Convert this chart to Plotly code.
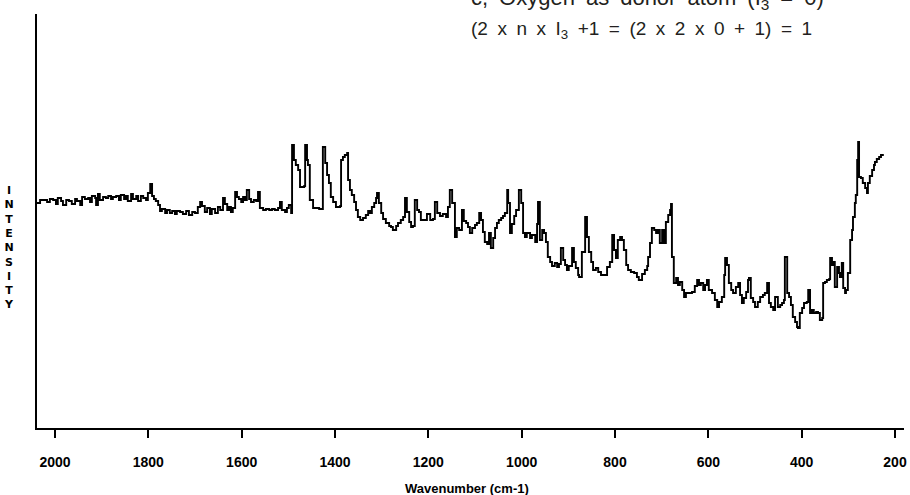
import plotly.graph_objects as go

# Wavenumber (cm-1) and intensity (arbitrary units)
wavenumber = [
    2039, 2032, 2024, 2017, 2011, 2004, 1998, 1994, 1987, 1983, 1976, 1970, 1964, 1957, 1953, 1946,
    1942, 1936, 1929, 1925, 1921, 1914, 1912, 1908, 1904, 1897, 1891, 1886, 1880, 1876, 1869, 1863,
    1859, 1852, 1848, 1844, 1837, 1833, 1826, 1822, 1816, 1811, 1805, 1801, 1796, 1792, 1788, 1784,
    1779, 1775, 1771, 1764, 1760, 1754, 1749, 1743, 1739, 1732,
    1726, 1719, 1713, 1706, 1700, 1694, 1689, 1685, 1679, 1674, 1668, 1664, 1657, 1651, 1646, 1640,
    1636, 1631, 1627, 1623, 1619, 1614, 1610, 1606, 1601, 1597, 1593, 1589, 1584, 1580, 1574, 1569,
    1565, 1561, 1554, 1548, 1541, 1535, 1529, 1522, 1518, 1514, 1507, 1503, 1499, 1494, 1492, 1488,
    1484, 1479, 1475, 1471, 1466, 1464, 1460, 1458, 1454, 1447, 1441, 1434, 1430, 1426, 1421,
    1417, 1413, 1409, 1404, 1398, 1394, 1389, 1387, 1383, 1379, 1374, 1372, 1368, 1364, 1359, 1355,
    1351, 1346, 1340, 1334, 1329, 1325, 1321, 1316, 1312, 1310, 1306, 1301, 1297, 1291, 1284, 1280,
    1276, 1269, 1265, 1259, 1254, 1250, 1246, 1241, 1237, 1233, 1229, 1224, 1220, 1216, 1209, 1203,
    1196, 1190, 1186, 1181, 1175, 1169, 1162, 1158, 1154, 1149, 1143, 1139, 1134, 1128, 1124, 1119,
    1115, 1111,
    1106, 1100, 1096, 1091, 1087, 1083, 1079, 1074, 1070, 1066, 1061, 1057, 1053, 1049, 1044, 1040,
    1036, 1031, 1029, 1025, 1021, 1016, 1012, 1006, 1001, 997, 993, 989, 982, 978, 971, 967,
    965, 961, 956, 952, 948, 944, 939, 935, 929, 924, 920, 916, 911, 907, 903, 899,
    892, 888, 884, 879, 877, 871, 864, 860, 856, 851, 847, 841, 836, 830, 824, 817,
    811, 806, 802,
    798, 794, 789, 785, 781, 776, 772, 766, 759, 753, 749, 742, 736, 731, 729, 725,
    721, 716, 712, 708, 704, 699, 695, 691, 686, 682, 680, 678, 674, 669, 665, 661,
    656, 652, 648, 641, 635, 629, 624, 620, 616, 611, 607, 603, 599, 592, 586, 581,
    577, 571, 566, 564, 560, 556, 551, 547, 541, 536, 532, 528, 524, 519, 515, 513,
    509, 504, 500, 494, 489,
    483, 479, 474, 470, 466, 461, 457, 451, 446, 442, 438, 436, 431, 427, 423, 419,
    414, 410, 408, 404, 399, 395, 389, 386, 382, 378, 374, 369, 365, 361, 356, 354,
    350, 346, 341, 339, 335, 333, 329, 324, 320, 318, 314, 311, 307, 305, 301, 296,
    292, 290, 286, 284, 281, 279, 277, 273, 269, 264, 260, 258, 254, 249, 245, 243,
    239, 234, 230, 226,
]
intensity = [
    225, 228, 228, 226, 229, 228, 224, 230, 227, 223, 228, 227, 224, 229, 227, 223,
    231, 229, 230, 226, 232, 230, 223, 234, 228, 231, 230, 232, 229, 231, 232, 228,
    233, 229, 232, 227, 234, 229, 232, 227, 232, 230, 228, 235, 244, 232, 229, 227,
    223, 217, 219, 215, 218, 215, 217, 214, 217, 216,
    214, 217, 213, 216, 215, 221, 226, 222, 216, 220, 214, 219, 215, 221, 218, 230,
    224, 218, 221, 216, 220, 236, 231, 229, 226, 231, 228, 238, 229, 226, 228, 227,
    236, 220, 218, 219, 218, 219, 218, 220, 226, 218, 216, 220, 223, 215, 283, 268,
    263, 258, 241, 241, 242, 283, 268, 263, 228, 220, 220, 219, 219, 281, 265,
    253, 245, 231, 226, 221, 221, 222, 268, 271, 273, 275, 248, 238, 233, 226, 218,
    211, 208, 210, 213, 217, 215, 221, 225, 230, 235, 225, 215, 209, 205, 202, 201,
    198, 202, 205, 208, 211, 230, 216, 206, 201, 202, 228, 218, 216, 208, 208, 214,
    208, 209, 226, 215, 212, 214, 211, 221, 238, 225, 191, 200, 198, 218, 207, 205,
    201, 195,
    200, 203, 205, 215, 208, 196, 186, 184, 195, 180, 190, 200, 205, 208, 210, 212,
    215, 238, 225, 195, 204, 212, 218, 238, 225, 195, 191, 195, 190, 193, 186, 204,
    226, 188, 198, 195, 186, 171, 166, 162, 165, 161, 164, 180, 168, 163, 158, 162,
    180, 166, 160, 153, 151, 176, 211, 191, 176, 166, 158, 160, 156, 153, 153, 161,
    166, 193, 178,
    170, 188, 191, 188, 178, 163, 158, 156, 155, 151, 148, 154, 158, 162, 171, 185,
    200, 198, 195, 198, 185, 198, 185, 206, 213, 218, 224, 171, 145, 150, 143, 146,
    138, 131, 135, 135, 136, 142, 148, 143, 145, 138, 143, 148, 138, 135, 128, 121,
    126, 131, 153, 170, 163, 145, 138, 135, 141, 145, 133, 125, 130, 136, 148, 150,
    130, 126, 121, 126, 131,
    133, 135, 145, 125, 121, 118, 131, 121, 123, 125, 128, 171, 135, 131, 123, 111,
    106, 101, 100, 115, 120, 125, 126, 138, 115, 118, 115, 116, 115, 108, 110, 145,
    146, 148, 149, 170, 163, 166, 141, 161, 155, 151, 165, 140, 135, 138, 155, 188,
    198, 211, 225, 233, 268, 286, 251, 250, 245, 240, 235, 245, 252, 258, 263, 266,
    269, 271, 273, 274,
]

x_ticks = [2000, 1800, 1600, 1400, 1200, 1000, 800, 600, 400, 200]
x_title = "Wavenumber (cm-1)"
y_title_letters = ["I", "N", "T", "E", "N", "S", "I", "T", "Y"]
SP = "\u2002"
note_line1 = SP.join(["c,", "Oxygen", "as", "donor", "atom", "(I<sub>3</sub>", "=", "0)"])
note_line2 = SP.join(["(2", "x", "n", "x", "I<sub>3</sub>", "+1", "=", "(2", "x", "2", "x", "0", "+", "1)", "=", "1"])

bold_font = "Liberation Sans, Arial, sans-serif"

fig = go.Figure()
fig.add_trace(go.Scatter(
    x=wavenumber, y=intensity, mode="lines",
    line=dict(color="black", width=1.9, shape="hv"),
    hoverinfo="x+y", showlegend=False,
))

fig.update_layout(
    width=910, height=495,
    margin=dict(l=37, r=6, t=14, b=67, autoexpand=False),
    paper_bgcolor="white", plot_bgcolor="white",
    xaxis=dict(
        range=[2038.6, 180.7], showgrid=False, zeroline=False, automargin=False,
        showline=True, linecolor="black", linewidth=2,
        tickvals=x_ticks, ticktext=[str(v) for v in x_ticks],
        ticks="outside", ticklen=8, tickwidth=1.5, tickcolor="black",
        ticklabelstandoff=12,
        tickfont=dict(family=bold_font, size=14, color="black", weight="bold"),
    ),
    yaxis=dict(
        range=[0, 414], showgrid=False, zeroline=False, automargin=False,
        showline=True, linecolor="black", linewidth=2,
        showticklabels=False, ticks="",
    ),
    annotations=[
        dict(text=x_title, xref="paper", yref="paper", x=0.496, y=-0.145,
             xanchor="center", yanchor="middle", showarrow=False,
             font=dict(family=bold_font, size=13, color="black", weight="bold")),
        dict(text="<br>".join(y_title_letters), xref="paper", yref="paper",
             x=-0.0323, y=0.436, xanchor="center", yanchor="middle", showarrow=False,
             font=dict(family="DejaVu Sans, sans-serif", size=11, color="black", weight="bold")),
        dict(text=note_line1, xref="paper", yref="paper", x=0.4983, y=1.036,
             xanchor="left", yanchor="middle", showarrow=False,
             font=dict(family=bold_font, size=22, color="#231f20")),
        dict(text=note_line2, xref="paper", yref="paper", x=0.4983, y=0.962,
             xanchor="left", yanchor="middle", showarrow=False,
             font=dict(family=bold_font, size=19, color="#231f20")),
    ],
)

fig.write_html("out.html")
